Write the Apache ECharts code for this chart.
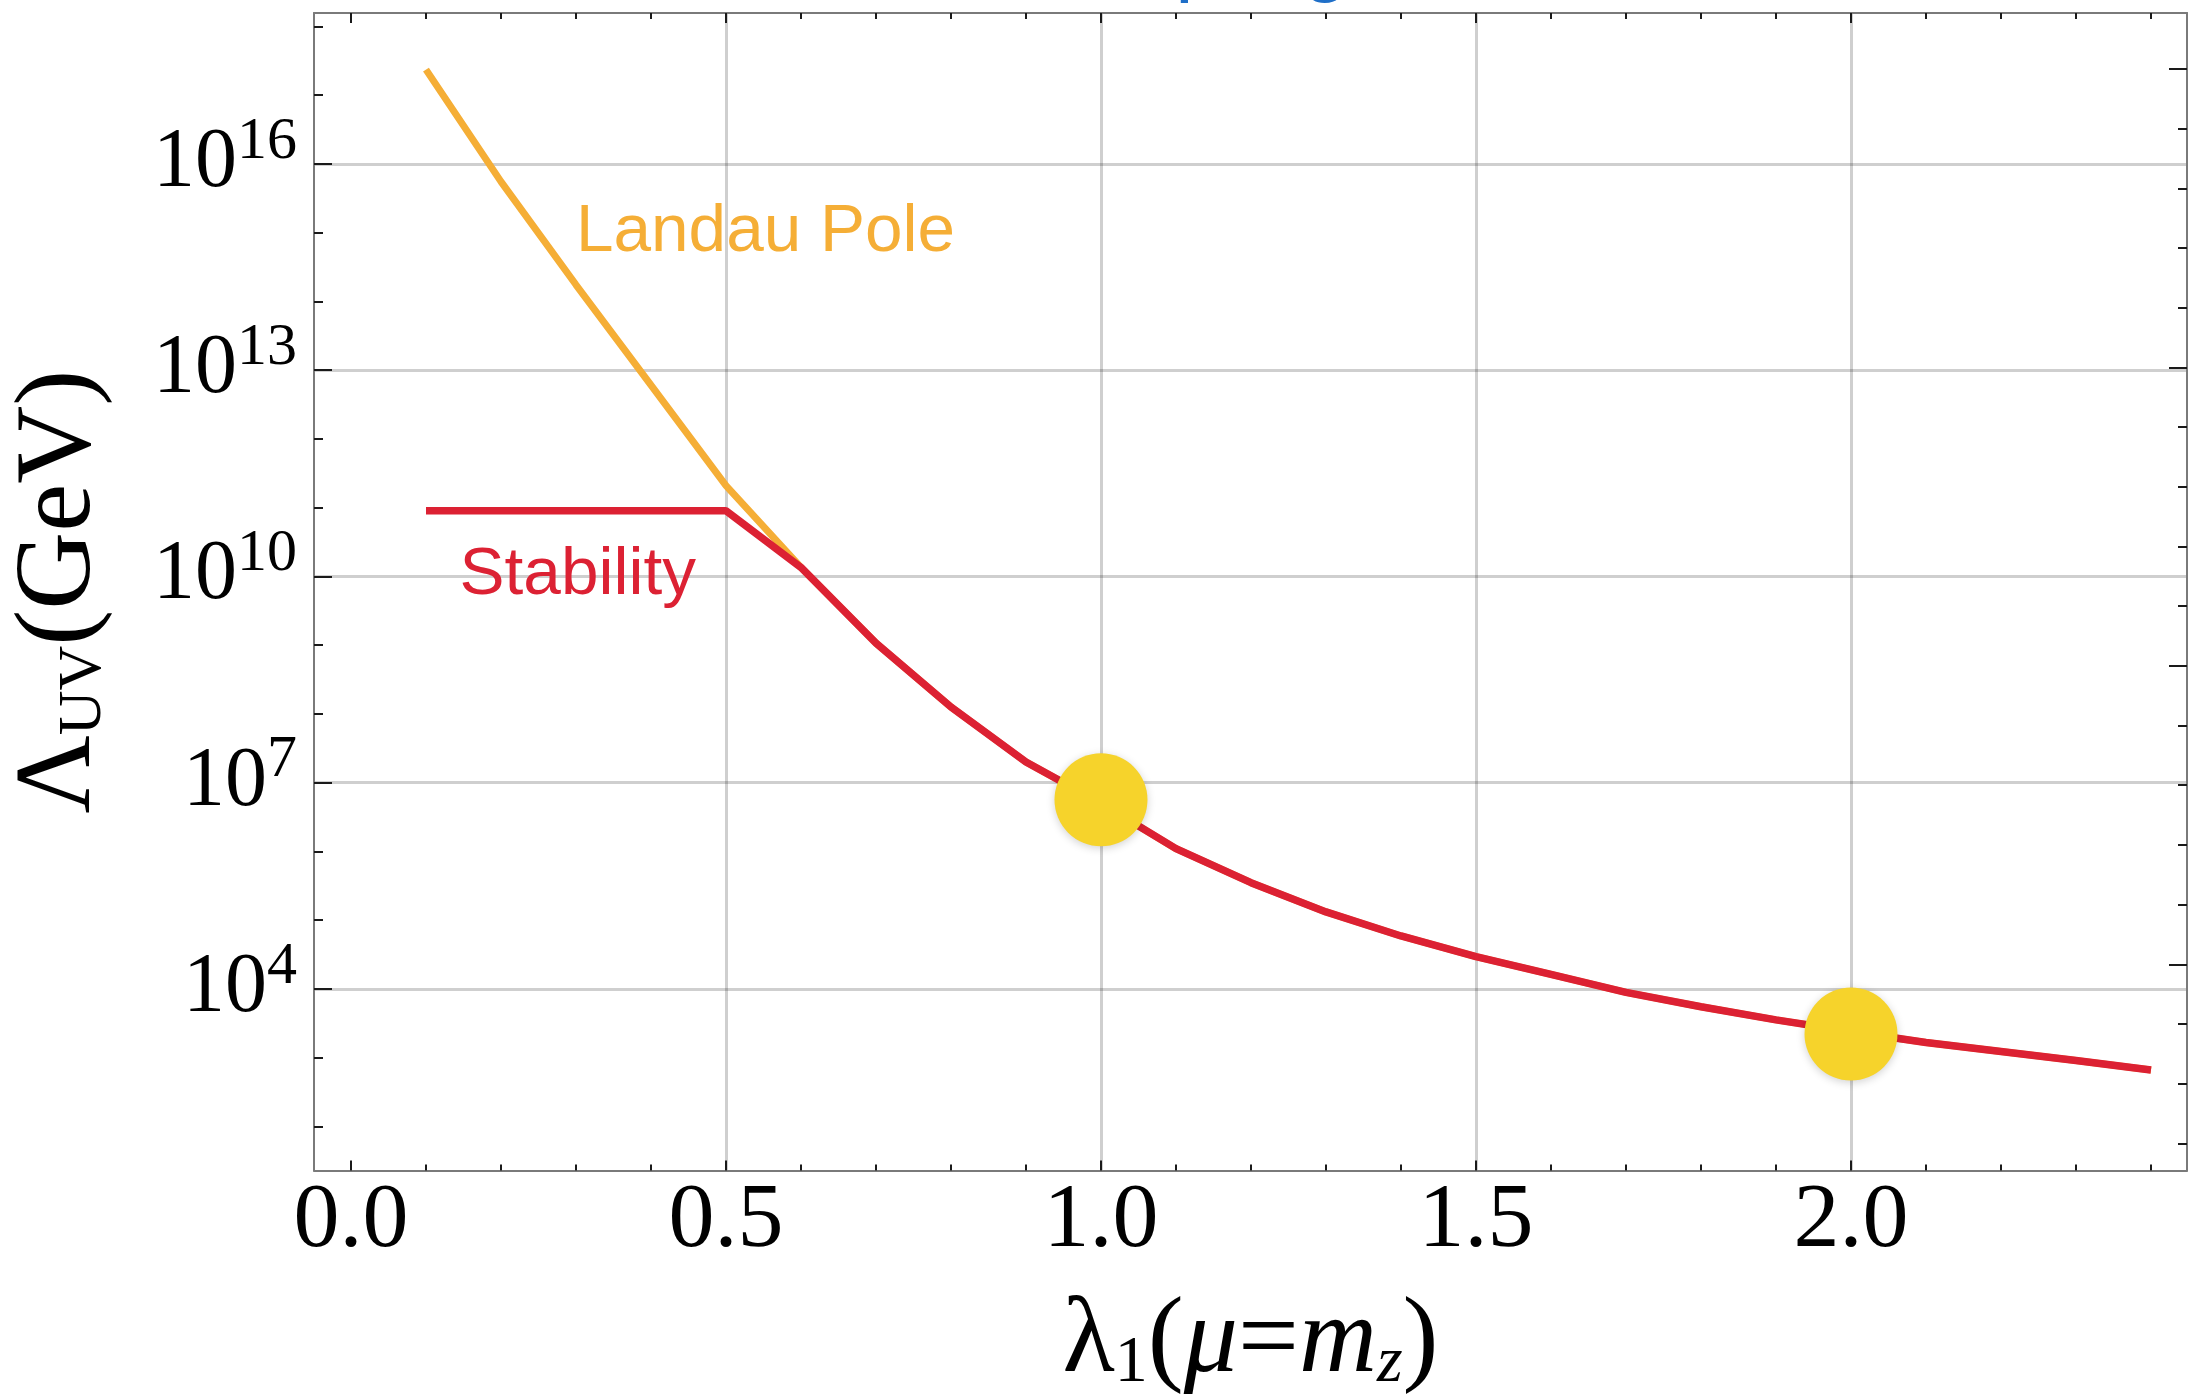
<!DOCTYPE html>
<html>
<head>
<meta charset="utf-8">
<script src="https://cdn.jsdelivr.net/npm/echarts@6/dist/echarts.min.js"></script>
<style>
html,body{margin:0;padding:0;background:#ffffff;}
#chart{width:2189px;height:1396px;}
</style>
</head>
<body>
<div id="chart"></div>
<script>
// ---- data (y values are log10 of Λ_UV in GeV) ----
const lambdaValues = [0.1, 0.2, 0.3, 0.4, 0.5, 0.6, 0.7, 0.8, 0.9, 1.0, 1.1, 1.2,
                      1.3, 1.4, 1.5, 1.6, 1.7, 1.8, 1.9, 2.0, 2.1, 2.2, 2.3, 2.4];
const landauPoleExp = [17.37, 15.74, 14.24, 12.78, 11.32, 10.13, 9.03, 8.10, 7.30, 6.70, 6.04, 5.545,
                       5.12, 4.77, 4.47, 4.21, 3.95, 3.74, 3.55, 3.38, 3.22, 3.09, 2.96, 2.82];
const stabilityExp = [10.955, 10.955, 10.955, 10.955, 10.955, 10.13, 9.03, 8.10, 7.30, 6.70, 6.04, 5.545,
                      5.12, 4.77, 4.47, 4.21, 3.95, 3.74, 3.55, 3.38, 3.22, 3.09, 2.96, 2.82];
const benchmarkLambda = [1.0, 2.0];
const benchmarkExp = [6.75, 3.344];

// ---- tick labels / tick positions ----
const xMajorTicks = [0, 0.5, 1.0, 1.5, 2.0];
const xMinorTicks = [0, 0.1, 0.2, 0.3, 0.4, 0.5, 0.6, 0.7, 0.8, 0.9, 1.0, 1.1, 1.2,
                     1.3, 1.4, 1.5, 1.6, 1.7, 1.8, 1.9, 2.0, 2.1, 2.2, 2.3, 2.4];
const xGridLines = [0.5, 1.0, 1.5, 2.0];
const yMajorExponents = [4, 7, 10, 13, 16];
const yMinorExponents = [2, 3, 4, 5, 6, 7, 8, 9, 10, 11, 12, 13, 14, 15, 16, 17, 18];
const rightMajorTicks = [0, 5, 10, 15];
const rightMinorTicks = [-3, -2, -1, 0, 1, 2, 3, 4, 5, 6, 7, 8, 9, 10, 11, 12, 13, 14, 15];

const seriesNames = ['Landau Pole', 'Stability'];
const cutTitle = 'coupling';

// ---- styling ----
const X_MIN = -0.0493, X_MAX = 2.448;
const Y_MIN = 1.359, Y_MAX = 18.193;
const R_MIN = -3.454, R_MAX = 15.936;
const SERIF = '"Liberation Serif", "Times New Roman", serif';
const SANS = '"Liberation Sans", Arial, sans-serif';
const frameLine = {show: true, onZero: false, lineStyle: {color: '#7a7a7a', width: 2}};
const noLine = {show: false, onZero: false};
const tickStyle = {color: '#1a1a1a', width: 2};
const ORANGE = '#F5AE36', RED = '#DC2133', YELLOW = '#F6D32B';

function tickAxis(type, position, min, max, values, length, showLine) {
  return {
    type: 'value', position: position, min: min, max: max,
    axisLine: showLine ? frameLine : noLine,
    axisTick: {show: true, inside: true, length: length, customValues: values, lineStyle: tickStyle},
    axisLabel: {show: false},
    splitLine: {show: false}
  };
}

const chart = echarts.init(document.getElementById('chart'), null, {renderer: 'canvas'});

const option = {
  backgroundColor: '#ffffff',
  animation: false,
  grid: {left: 314, right: 2, top: 13, bottom: 225.5, containLabel: false, outerBoundsMode: 'none'},
  xAxis: [
    {
      type: 'value', position: 'bottom', min: X_MIN, max: X_MAX,
      axisLine: frameLine,
      axisTick: {show: true, inside: true, length: 10, customValues: xMajorTicks, lineStyle: tickStyle},
      axisLabel: {
        show: true, customValues: xMajorTicks, margin: 5,
        formatter: function (v) { return v.toFixed(1); },
        fontFamily: SERIF, fontSize: 92, color: '#000'
      },
      splitLine: {show: false},
      name: '{r|λ}{sub|1}{r|(}{i|μ}{r|=}{i|m}{isub|z}{r|)}',
      nameLocation: 'middle', nameGap: 118, nameMoveOverlap: false,
      nameTextStyle: {
        color: '#000', fontFamily: SERIF,
        rich: {
          r: {fontFamily: SERIF, fontSize: 108, lineHeight: 108, color: '#000'},
          i: {fontFamily: SERIF, fontStyle: 'italic', fontSize: 108, lineHeight: 108, color: '#000'},
          sub: {fontFamily: SERIF, fontSize: 66, lineHeight: 62, verticalAlign: 'bottom', color: '#000'},
          isub: {fontFamily: SERIF, fontStyle: 'italic', fontSize: 66, lineHeight: 62, verticalAlign: 'bottom', color: '#000'}
        }
      }
    },
    tickAxis('value', 'bottom', X_MIN, X_MAX, xMinorTicks, 6, false),
    tickAxis('value', 'top', X_MIN, X_MAX, xMajorTicks, 10, true),
    tickAxis('value', 'top', X_MIN, X_MAX, xMinorTicks, 6, false),
    {
      type: 'value', position: 'bottom', min: X_MIN, max: X_MAX,
      axisLine: noLine,
      axisTick: {show: false, customValues: xGridLines},
      axisLabel: {show: false},
      splitLine: {show: true, lineStyle: {color: 'rgba(0,0,0,0.19)', width: 3}}
    }
  ],
  yAxis: [
    {
      type: 'value', position: 'left', min: Y_MIN, max: Y_MAX,
      axisLine: frameLine,
      axisTick: {show: true, inside: true, length: 18, customValues: yMajorExponents, lineStyle: tickStyle},
      axisLabel: {
        show: true, customValues: yMajorExponents, margin: 17,
        formatter: function (v) { return '{b|10}{s|' + v + '}'; },
        rich: {
          b: {fontFamily: SERIF, fontSize: 84, lineHeight: 104, color: '#000'},
          s: {fontFamily: SERIF, fontSize: 60, lineHeight: 44, verticalAlign: 'top', color: '#000'}
        }
      },
      splitLine: {show: true, lineStyle: {color: 'rgba(0,0,0,0.19)', width: 3}},
      name: '{a|Λ}{s|UV}{a|(GeV)}',
      nameLocation: 'middle', nameGap: 199, nameMoveOverlap: false,
      nameTextStyle: {
        color: '#000', fontFamily: SERIF,
        rich: {
          a: {fontFamily: SERIF, fontSize: 108, lineHeight: 108, color: '#000'},
          s: {fontFamily: SERIF, fontSize: 62, lineHeight: 46, verticalAlign: 'bottom', color: '#000'}
        }
      }
    },
    tickAxis('value', 'left', Y_MIN, Y_MAX, yMinorExponents, 9, false),
    tickAxis('value', 'right', R_MIN, R_MAX, rightMajorTicks, 18, true),
    tickAxis('value', 'right', R_MIN, R_MAX, rightMinorTicks, 9, false)
  ],
  series: [
    {
      name: seriesNames[0], type: 'line', xAxisIndex: 0, yAxisIndex: 0,
      data: lambdaValues.map(function (x, i) { return [x, landauPoleExp[i]]; }),
      showSymbol: false, symbol: 'none', z: 3,
      lineStyle: {color: ORANGE, width: 7}
    },
    {
      name: seriesNames[1], type: 'line', xAxisIndex: 0, yAxisIndex: 0,
      data: lambdaValues.map(function (x, i) { return [x, stabilityExp[i]]; }),
      showSymbol: false, symbol: 'none', z: 4,
      lineStyle: {color: RED, width: 7.5}
    },
    {
      name: 'benchmarks', type: 'scatter', xAxisIndex: 0, yAxisIndex: 0,
      data: benchmarkLambda.map(function (x, i) { return [x, benchmarkExp[i]]; }),
      symbol: 'circle', symbolSize: 93, z: 5,
      itemStyle: {color: YELLOW, opacity: 1, shadowBlur: 8, shadowColor: 'rgba(0,0,0,0.18)', shadowOffsetY: 2}
    }
  ]
};

chart.setOption(option);

// annotations anchored in data coordinates (x, log10 Λ at text baseline)
const landauAnchor = chart.convertToPixel({xAxisIndex: 0, yAxisIndex: 0}, [0.3, 14.722]);
const stabAnchor = chart.convertToPixel({xAxisIndex: 0, yAxisIndex: 0}, [0.1448, 9.728]);
const labelFont = 67.5;
const midShift = 0.3465 * labelFont - 4;
chart.setOption({
  graphic: [
    {
      type: 'text', x: landauAnchor[0], y: landauAnchor[1] - midShift, z: 10,
      style: {text: seriesNames[0], fill: ORANGE, fontFamily: SANS, fontSize: labelFont, align: 'left', verticalAlign: 'middle'}
    },
    {
      type: 'text', x: stabAnchor[0], y: stabAnchor[1] - midShift, z: 10,
      style: {text: seriesNames[1], fill: RED, fontFamily: SANS, fontSize: labelFont, align: 'left', verticalAlign: 'middle'}
    },
    {
      type: 'text', x: 1043, y: -37, z: 10,
      style: {text: cutTitle, fill: '#1F6FC8', fontFamily: SANS, fontSize: 82, align: 'left', verticalAlign: 'middle'}
    }
  ]
});
</script>
</body>
</html>
